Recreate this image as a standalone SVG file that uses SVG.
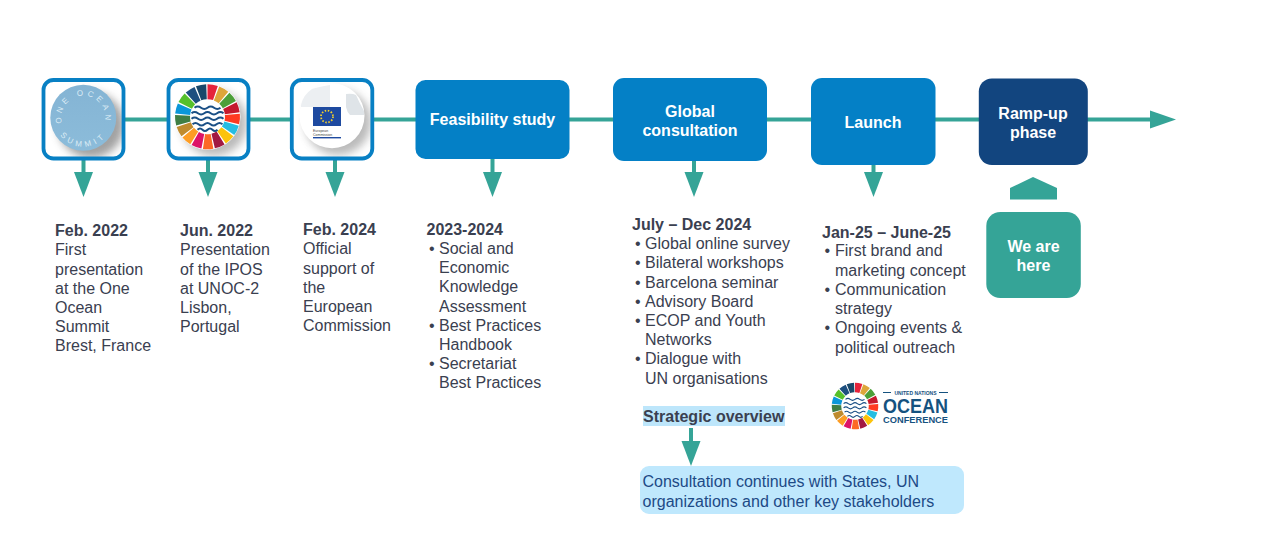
<svg xmlns="http://www.w3.org/2000/svg" xmlns:xlink="http://www.w3.org/1999/xlink" width="1280" height="546" viewBox="0 0 1280 546">
<style>
text{font-family:"Liberation Sans",Arial,sans-serif;font-size:16px;fill:#3a4050}
.b{font-weight:bold}
.w{font-weight:bold;fill:#fff;text-anchor:middle;font-size:16px}
.frame{fill:none;stroke:#0880c4;stroke-width:3.800}
.bg{fill:#fff}
.blue{fill:#0480c6}
.teal{fill:#35a497}
.line{stroke:#35a497;stroke-width:4;fill:none}
.seg{fill:none;stroke-width:15}
.wave{fill:none;stroke:#1a4f85;stroke-width:2}
.wave2{fill:none;stroke:#1a4f85;stroke-width:1.2}
.ring{font-size:8px;fill:#dcecf5;letter-spacing:3.600px}
</style>
<defs>
<filter id="sh" x="-30%" y="-30%" width="160%" height="160%"><feGaussianBlur stdDeviation="4"/></filter>
<path id="head" class="teal" d="M-9.500 0H9.500L0 25Z"/>
<g id="arrow"><path class="line" d="M0 -13V2"/><use xlink:href="#head"/></g>
<linearGradient id="oc" x1="0" y1="0" x2="0" y2="1"><stop offset="0" stop-color="#84b4d4"/><stop offset="1" stop-color="#8cbcda"/></linearGradient>
<path id="ringTop" d="M65.300 130.300A22 22 0 1 1 101.300 130.300"/>
<path id="ringBot" d="M54.300 117.700A29 29 0 0 0 112.300 117.700"/>
<clipPath id="c1"><rect x="43.500" y="80" width="80" height="78.500" rx="10"/></clipPath>
<clipPath id="c2"><rect x="168.500" y="80" width="80" height="78.500" rx="10"/></clipPath>
<clipPath id="c3"><rect x="291.800" y="80" width="80.500" height="78.500" rx="10"/></clipPath>
</defs>

<g id="connectors">
<path class="line" d="M124 119.500H1152"/>
<path class="teal" d="M1150 110.500L1176 119.500L1150 128.500Z"/>
<use xlink:href="#arrow" x="83.500" y="172"/>
<use xlink:href="#arrow" x="208" y="172"/>
<use xlink:href="#arrow" x="335" y="172"/>
<use xlink:href="#arrow" x="492.500" y="172"/>
<use xlink:href="#arrow" x="694" y="172"/>
<use xlink:href="#arrow" x="873.500" y="172"/>
<path class="line" d="M691 428V443"/>
<use xlink:href="#head" x="691" y="441"/>
<path id="here-arrow" class="teal" d="M1010 188L1033 177L1057 188V199.500H1010Z"/>
</g>

<g id="node-oos">
<rect class="bg" x="43.500" y="80" width="80" height="78.500" rx="10"/>
<g clip-path="url(#c1)"><circle cx="91" cy="125" r="33" fill="#555" opacity=".55" filter="url(#sh)"/></g>
<rect class="frame" x="43.500" y="80" width="80" height="78.500" rx="10"/>
<circle cx="83.300" cy="117.700" r="33" fill="url(#oc)"/>
<text class="ring" text-anchor="middle"><textPath xlink:href="#ringTop" startOffset="50%">ONE OCEAN</textPath></text>
<text class="ring" text-anchor="middle"><textPath xlink:href="#ringBot" startOffset="50%">SUMMIT</textPath></text>
</g>

<g id="node-unoc">
<rect class="bg" x="168.500" y="80" width="80" height="78.500" rx="10"/>
<g clip-path="url(#c2)"><circle cx="214" cy="123" r="33" fill="#555" opacity=".4" filter="url(#sh)"/></g>
<rect class="frame" x="168.500" y="80" width="80" height="78.500" rx="10"/>
<circle cx="207.500" cy="116.700" r="33" fill="#fff"/>
<g transform="translate(207.500 116.700)">
<g class="seg">
<circle r="25" pathLength="17" stroke-dasharray=".88 16.120" stroke="#e5243b" transform="rotate(-90)"/>
<circle r="25" pathLength="17" stroke-dasharray=".88 16.120" stroke="#dda63a" transform="rotate(-68.800)"/>
<circle r="25" pathLength="17" stroke-dasharray=".88 16.120" stroke="#4c9f38" transform="rotate(-47.600)"/>
<circle r="25" pathLength="17" stroke-dasharray=".88 16.120" stroke="#c5192d" transform="rotate(-26.400)"/>
<circle r="25" pathLength="17" stroke-dasharray=".88 16.120" stroke="#ff3a21" transform="rotate(-5.200)"/>
<circle r="25" pathLength="17" stroke-dasharray=".88 16.120" stroke="#26bde2" transform="rotate(16)"/>
<circle r="25" pathLength="17" stroke-dasharray=".88 16.120" stroke="#fcc30b" transform="rotate(37.200)"/>
<circle r="25" pathLength="17" stroke-dasharray=".88 16.120" stroke="#a21942" transform="rotate(58.400)"/>
<circle r="25" pathLength="17" stroke-dasharray=".88 16.120" stroke="#fd6925" transform="rotate(79.600)"/>
<circle r="25" pathLength="17" stroke-dasharray=".88 16.120" stroke="#dd1367" transform="rotate(100.800)"/>
<circle r="25" pathLength="17" stroke-dasharray=".88 16.120" stroke="#fd9d24" transform="rotate(122)"/>
<circle r="25" pathLength="17" stroke-dasharray=".88 16.120" stroke="#bf8b2e" transform="rotate(143.200)"/>
<circle r="25" pathLength="17" stroke-dasharray=".88 16.120" stroke="#3f7e44" transform="rotate(164.400)"/>
<circle r="25" pathLength="17" stroke-dasharray=".88 16.120" stroke="#0a97d9" transform="rotate(185.600)"/>
<circle r="25" pathLength="17" stroke-dasharray=".88 16.120" stroke="#56c02b" transform="rotate(206.800)"/>
<circle r="25" pathLength="17" stroke-dasharray=".88 16.120" stroke="#1d4f7f" transform="rotate(228)"/>
<circle r="25" pathLength="17" stroke-dasharray=".88 16.120" stroke="#19486a" transform="rotate(249.200)"/>
</g>
<path class="wave" d="M-13 -9q3.200 -2.500 6.500 0t6.500 0t6.500 0t6.500 0"/>
<path class="wave" d="M-16 -3.500q3.200 -2.500 6.400 0t6.400 0t6.400 0t6.400 0t6.400 0"/>
<path class="wave" d="M-16 2q3.200 -2.500 6.400 0t6.400 0t6.400 0t6.400 0t6.400 0"/>
<path class="wave" d="M-15 7.500q3 -2.500 6 0t6 0t6 0t6 0t6 0"/>
<path class="wave" d="M-10 13q2.500 -2.500 5 0t5 0t5 0t5 0"/>
</g>
</g>

<g id="node-ec">
<rect class="bg" x="291.800" y="80" width="80.500" height="78.500" rx="10"/>
<g clip-path="url(#c3)"><circle cx="338" cy="122" r="33" fill="#555" opacity=".4" filter="url(#sh)"/></g>
<rect class="frame" x="291.800" y="80" width="80.500" height="78.500" rx="10"/>
<circle cx="332" cy="115.700" r="32.500" fill="#fff"/>
<path d="M346 107V94Q352 93 356 95Q359 102 364 111V115H350Q347 112 346 107Z" fill="#dfe4e8"/>
<path d="M301 105Q303 95 312 89Q318 87 330 85V107H301Z" fill="#eceff2"/>
<rect x="313" y="107" width="28" height="19" fill="#1e4aa0"/>
<circle cx="327" cy="116.500" r="6" fill="none" stroke="#f6d22b" stroke-width="1.800" stroke-dasharray="1.500 1.650"/>
<text x="313" y="132" style="font-size:3.500px;fill:#444">European</text>
<text x="313" y="136" style="font-size:3.500px;fill:#444">Commission</text>
<rect x="313" y="137" width="28" height="1.400" fill="#1e4aa0"/>
</g>

<g id="node-feasibility">
<rect class="blue" x="415.500" y="80" width="154" height="79" rx="10"/>
<text class="w" x="492.500" y="125">Feasibility study</text>
</g>
<g id="node-global">
<rect class="blue" x="613" y="78" width="154" height="83" rx="11"/>
<text class="w" x="690" y="116.700">Global</text>
<text class="w" x="690" y="135.700">consultation</text>
</g>
<g id="node-launch">
<rect class="blue" x="811" y="78" width="124.500" height="87" rx="11"/>
<text class="w" x="873" y="127.700">Launch</text>
</g>
<g id="node-rampup">
<rect x="978.800" y="78.500" width="109" height="86.500" rx="13" fill="#12457f"/>
<text class="w" x="1033" y="118.700">Ramp-up</text>
<text class="w" x="1033" y="137.700">phase</text>
</g>
<g id="node-here">
<rect class="teal" x="986.300" y="212" width="94.500" height="86" rx="14"/>
<text class="w" x="1033.500" y="251.700">We are</text>
<text class="w" x="1033.500" y="270.700">here</text>
</g>

<g id="col-2022a">
<text class="b" x="55" y="235.700">Feb. 2022</text>
<text x="55" y="254.700">First</text>
<text x="55" y="274.700">presentation</text>
<text x="55" y="293.700">at the One</text>
<text x="55" y="312.700">Ocean</text>
<text x="55" y="331.700">Summit</text>
<text x="55" y="350.700">Brest, France</text>
</g>
<g id="col-2022b">
<text class="b" x="180" y="235.700">Jun. 2022</text>
<text x="180" y="254.700">Presentation</text>
<text x="180" y="274.700">of the IPOS</text>
<text x="180" y="293.700">at UNOC-2</text>
<text x="180" y="312.700">Lisbon,</text>
<text x="180" y="331.700">Portugal</text>
</g>
<g id="col-2024">
<text class="b" x="303" y="234.700">Feb. 2024</text>
<text x="303" y="253.700">Official</text>
<text x="303" y="273.700">support of</text>
<text x="303" y="292.700">the</text>
<text x="303" y="311.700">European</text>
<text x="303" y="330.700">Commission</text>
</g>
<g id="col-feasibility">
<text class="b" x="426.500" y="234.700">2023-2024</text>
<text x="429" y="253.700">•</text><text x="439" y="253.700">Social and</text>
<text x="439" y="272.700">Economic</text>
<text x="439" y="291.700">Knowledge</text>
<text x="439" y="311.700">Assessment</text>
<text x="429" y="330.700">•</text><text x="439" y="330.700">Best Practices</text>
<text x="439" y="349.700">Handbook</text>
<text x="429" y="368.700">•</text><text x="439" y="368.700">Secretariat</text>
<text x="439" y="387.700">Best Practices</text>
</g>
<g id="col-global">
<text class="b" x="632" y="229.700">July – Dec 2024</text>
<text x="635" y="248.700">•</text><text x="645" y="248.700">Global online survey</text>
<text x="635" y="267.700">•</text><text x="645" y="267.700">Bilateral workshops</text>
<text x="635" y="287.700">•</text><text x="645" y="287.700">Barcelona seminar</text>
<text x="635" y="306.700">•</text><text x="645" y="306.700">Advisory Board</text>
<text x="635" y="325.700">•</text><text x="645" y="325.700">ECOP and Youth</text>
<text x="645" y="344.700">Networks</text>
<text x="635" y="363.700">•</text><text x="645" y="363.700">Dialogue with</text>
<text x="645" y="383.700">UN organisations</text>
</g>
<g id="col-launch">
<text class="b" x="822" y="237.500">Jan-25 – June-25</text>
<text x="824.500" y="255.700">•</text><text x="835" y="255.700">First brand and</text>
<text x="835" y="275.700">marketing concept</text>
<text x="824.500" y="294.700">•</text><text x="835" y="294.700">Communication</text>
<text x="835" y="313.700">strategy</text>
<text x="824.500" y="332.700">•</text><text x="835" y="332.700">Ongoing events &amp;</text>
<text x="835" y="352.700">political outreach</text>
</g>

<g id="unoc-logo">
<g transform="translate(855 406) scale(.95)">
<g class="seg" style="stroke-width:10">
<circle r="19.500" pathLength="17" stroke-dasharray=".88 16.120" stroke="#e5243b" transform="rotate(-90)"/>
<circle r="19.500" pathLength="17" stroke-dasharray=".88 16.120" stroke="#dda63a" transform="rotate(-68.800)"/>
<circle r="19.500" pathLength="17" stroke-dasharray=".88 16.120" stroke="#4c9f38" transform="rotate(-47.600)"/>
<circle r="19.500" pathLength="17" stroke-dasharray=".88 16.120" stroke="#c5192d" transform="rotate(-26.400)"/>
<circle r="19.500" pathLength="17" stroke-dasharray=".88 16.120" stroke="#ff3a21" transform="rotate(-5.200)"/>
<circle r="19.500" pathLength="17" stroke-dasharray=".88 16.120" stroke="#26bde2" transform="rotate(16)"/>
<circle r="19.500" pathLength="17" stroke-dasharray=".88 16.120" stroke="#fcc30b" transform="rotate(37.200)"/>
<circle r="19.500" pathLength="17" stroke-dasharray=".88 16.120" stroke="#a21942" transform="rotate(58.400)"/>
<circle r="19.500" pathLength="17" stroke-dasharray=".88 16.120" stroke="#fd6925" transform="rotate(79.600)"/>
<circle r="19.500" pathLength="17" stroke-dasharray=".88 16.120" stroke="#dd1367" transform="rotate(100.800)"/>
<circle r="19.500" pathLength="17" stroke-dasharray=".88 16.120" stroke="#fd9d24" transform="rotate(122)"/>
<circle r="19.500" pathLength="17" stroke-dasharray=".88 16.120" stroke="#bf8b2e" transform="rotate(143.200)"/>
<circle r="19.500" pathLength="17" stroke-dasharray=".88 16.120" stroke="#3f7e44" transform="rotate(164.400)"/>
<circle r="19.500" pathLength="17" stroke-dasharray=".88 16.120" stroke="#0a97d9" transform="rotate(185.600)"/>
<circle r="19.500" pathLength="17" stroke-dasharray=".88 16.120" stroke="#56c02b" transform="rotate(206.800)"/>
<circle r="19.500" pathLength="17" stroke-dasharray=".88 16.120" stroke="#1d4f7f" transform="rotate(228)"/>
<circle r="19.500" pathLength="17" stroke-dasharray=".88 16.120" stroke="#19486a" transform="rotate(249.200)"/>
</g>
<path class="wave2" d="M-10 -7q2.500 -2 5 0t5 0t5 0t5 0"/>
<path class="wave2" d="M-12 -2.500q2.400 -2 4.800 0t4.800 0t4.800 0t4.800 0t4.800 0"/>
<path class="wave2" d="M-12 2q2.400 -2 4.800 0t4.800 0t4.800 0t4.800 0t4.800 0"/>
<path class="wave2" d="M-11 6.500q2.200 -2 4.400 0t4.400 0t4.400 0t4.400 0t4.400 0"/>
<path class="wave2" d="M-8 11q2 -2 4 0t4 0t4 0t4 0"/>
</g>
<path d="M883 392.500H891M939 392.500H948" stroke="#15527f" stroke-width="1"/>
<text x="915.500" y="394.500" text-anchor="middle" style="font-size:5px;font-weight:bold;fill:#15527f">UNITED NATIONS</text>
<text x="915.500" y="412.500" text-anchor="middle" textLength="65" lengthAdjust="spacingAndGlyphs" style="font-size:20px;font-weight:bold;fill:#15527f">OCEAN</text>
<text x="915.500" y="423" text-anchor="middle" textLength="65" lengthAdjust="spacingAndGlyphs" style="font-size:9.500px;font-weight:bold;fill:#15527f">CONFERENCE</text>
</g>

<g id="node-strategic">
<rect x="643" y="406" width="142" height="20" fill="#bde6fb"/>
<text class="b" x="643" y="421.500">Strategic overview</text>
</g>
<g id="node-continues">
<rect x="640" y="466" width="324" height="48" rx="9" fill="#bfe8fd"/>
<text x="642.500" y="486.500" style="fill:#1d4a86">Consultation continues with States, UN</text>
<text x="642.500" y="506.500" style="fill:#1d4a86">organizations and other key stakeholders</text>
</g>
</svg>
